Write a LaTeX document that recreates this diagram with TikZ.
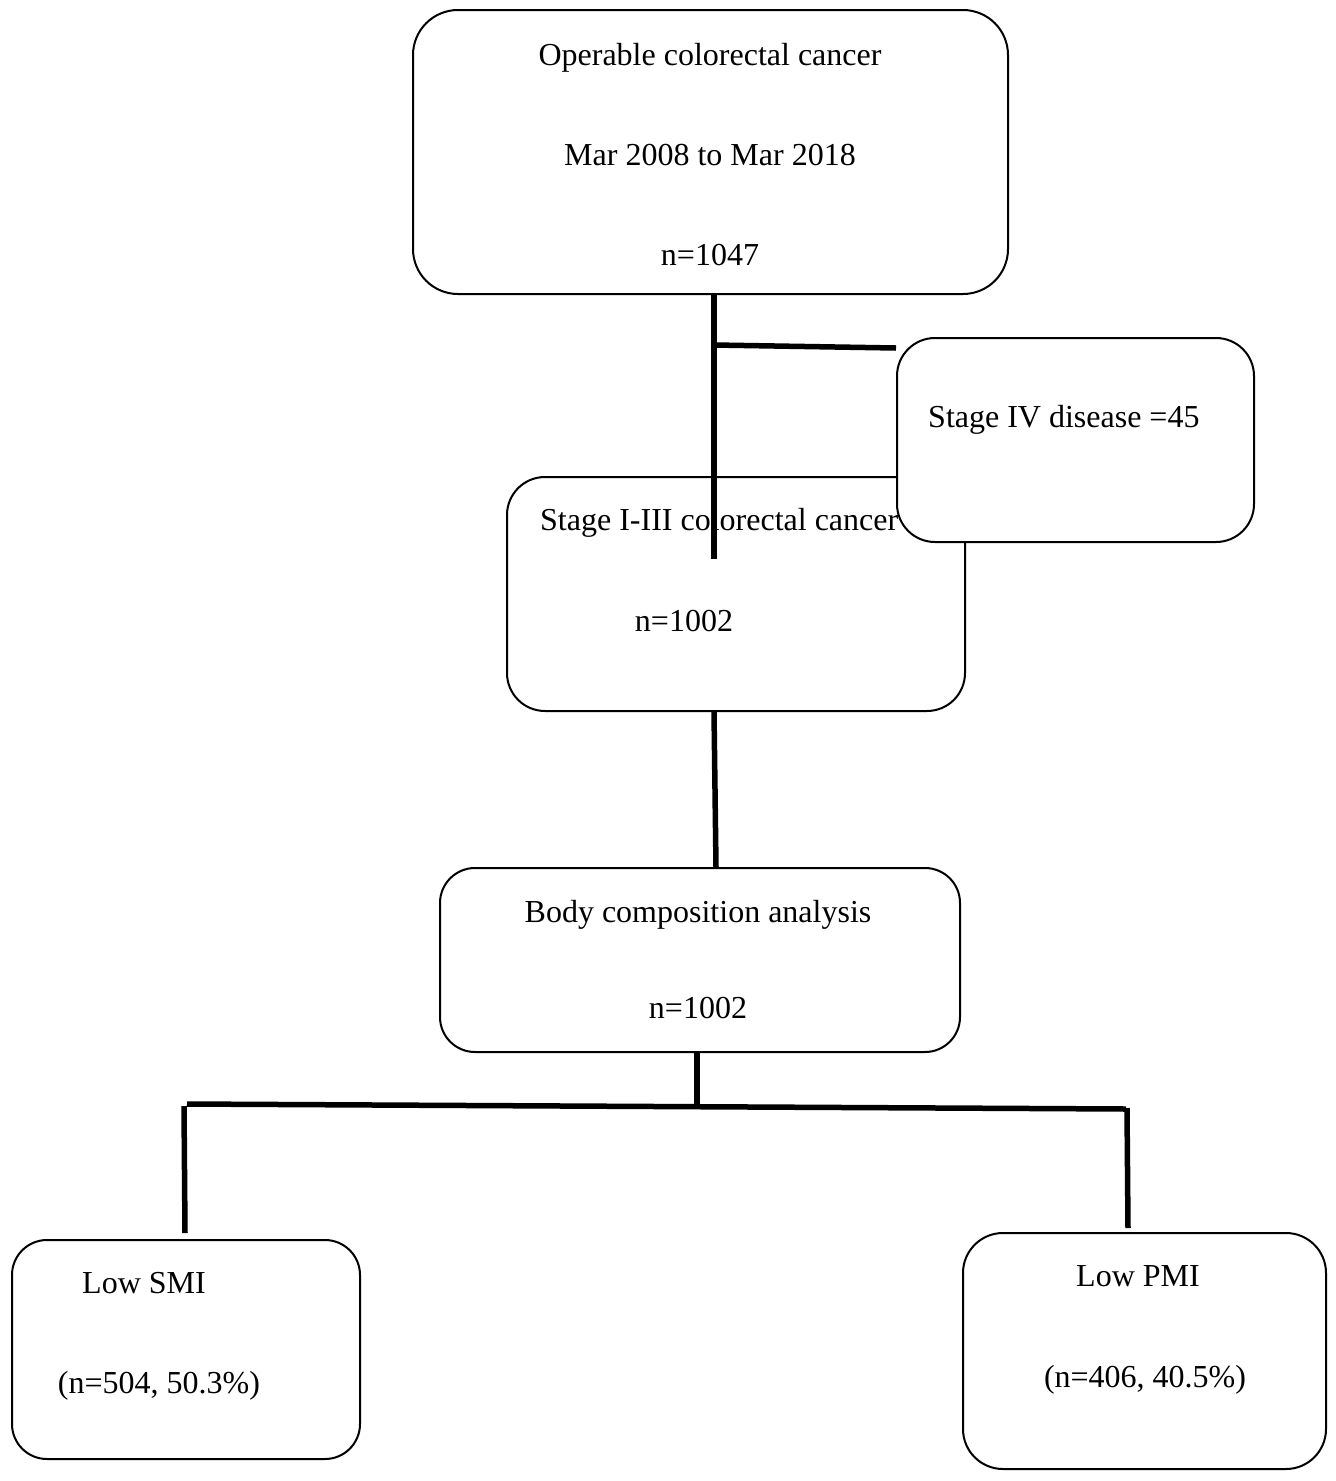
\documentclass[tikz,border=0pt]{standalone}
\usepackage{fontspec}
\setmainfont{Liberation Serif}
\begin{document}
\begin{tikzpicture}[x=1pt,y=-1pt,
  box/.style={draw, line width=2pt, fill=white, inner sep=0pt, rounded corners=#1},
  box/.default=40pt,
  conn/.style={line width=5.5pt},
  txt/.style={inner sep=0pt, font=\fontsize{32}{36}\selectfont}]
\useasboundingbox (0,0) rectangle (1336,1481);
% top box
\node[box=45pt, minimum width=595pt, minimum height=284pt] (b1) at (710.5,152) {};
\node[txt, anchor=base] (t1a) at (710,65) {Operable colorectal cancer};
\node[txt, anchor=base] (t1b) at (710,165) {Mar 2008 to Mar 2018};
\node[txt, anchor=base] (t1c) at (710,265) {n=1047};
% stage I-III
\node[box=38pt, minimum width=458pt, minimum height=234pt] (b2) at (736,594) {};
\node[txt, anchor=base west] (t2a) at (540,530) {Stage I-III colorectal cancer};
\node[txt, anchor=base] (t2b) at (684,631) {n=1002};
% connectors from top box
\coordinate (v1) at (714,559);
\coordinate (h1) at (714,345);
\draw[conn] (b1.south -| v1) -- (v1);
% stage IV
\node[box=38pt, minimum width=357pt, minimum height=204pt] (b4) at (1075.5,440) {};
\node[txt, anchor=base west] (t4) at (928,427) {Stage IV disease =45};
\draw[conn] (h1) -- (b4.west |- 0,348);
% body composition
\node[box=35pt, minimum width=520pt, minimum height=184pt] (b3) at (700,960) {};
\node[txt, anchor=base] (t3a) at (698,922) {Body composition analysis};
\node[txt, anchor=base] (t3b) at (698,1018) {n=1002};
\draw[conn] (b2.south -| 714,0) -- (b3.north -| 716,0);
% bottom boxes
\node[box=35pt, minimum width=348pt, minimum height=219pt] (b5) at (186,1349.5) {};
\node[txt, anchor=base] (t5a) at (144,1293) {Low SMI};
\node[txt, anchor=base] (t5b) at (159,1393) {(n=504, 50.3\%)};
\node[box=40pt, minimum width=363pt, minimum height=236pt] (b6) at (1144.5,1351) {};
\node[txt, anchor=base] (t6a) at (1138,1286) {Low PMI};
\node[txt, anchor=base] (t6b) at (1145,1387) {(n=406, 40.5\%)};
% branching
\coordinate (j) at (697,1106);
\coordinate (hl) at (187,1104);
\coordinate (hr) at (1126,1109);
\coordinate (vl) at (185,1233);
\coordinate (vr) at (1128,1228);
\draw[conn] (b3.south -| j) -- (j);
\draw[conn] (hl) -- (hr);
\draw[conn] (184,1106) -- (vl);
\draw[conn] (1127,1108) -- (vr);
\end{tikzpicture}
\end{document}
